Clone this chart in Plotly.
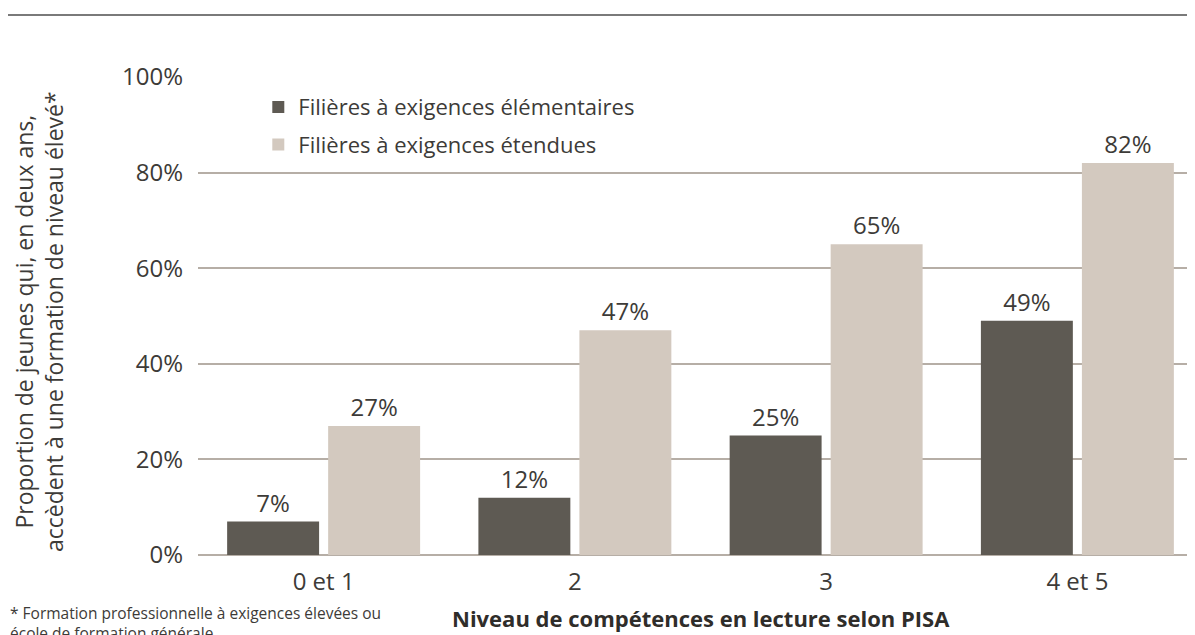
import plotly.graph_objects as go

categories = ["0 et 1", "2", "3", "4 et 5"]
elementaires = [7, 12, 25, 49]
etendues = [27, 47, 65, 82]
series_names = ["Filières à exigences élémentaires", "Filières à exigences étendues"]
tick_vals = [0, 20, 40, 60, 80, 100]
tick_text = ["0%", "20%", "40%", "60%", "80%", "100%"]

FONT = "Open Sans"
TXT = "#3d3b38"
DARK = "#5e5a53"
LIGHT = "#d3c9bf"
GRID = "#b6aea6"

L, T, B = 190, 69, 88
PW, PH = 1195 - L, 635 - T - B

fig = go.Figure()
fig.add_trace(go.Bar(
    x=categories, y=elementaires, name=series_names[0], legendgroup="a",
    marker=dict(color=DARK, line=dict(width=0)),
    width=0.366, offset=-0.384,
    text=[f"{v}%" for v in elementaires], textposition="outside",
    textfont=dict(family=FONT, size=24, color=TXT), cliponaxis=False,
))
fig.add_trace(go.Bar(
    x=categories, y=etendues, name=series_names[1], legendgroup="b",
    marker=dict(color=LIGHT, line=dict(width=0)),
    width=0.366, offset=0.018,
    text=[f"{v}%" for v in etendues], textposition="outside",
    textfont=dict(family=FONT, size=24, color=TXT), cliponaxis=False,
))

fig.update_layout(
    width=1195, height=635,
    margin=dict(l=L, r=0, t=T, b=B),
    paper_bgcolor="white", plot_bgcolor="white",
    font=dict(family=FONT, color=TXT, size=22),
    barmode="overlay",
    showlegend=True,
    legend=dict(x=0.06, y=0.981, xanchor="left", yanchor="top",
                font=dict(family=FONT, size=22, color=TXT),
                bgcolor="rgba(0,0,0,0)", traceorder="grouped", tracegroupgap=6),
    xaxis=dict(range=[-0.5, 3.5], showgrid=False, showline=False, zeroline=False,
               ticks="", ticklabelstandoff=10,
               tickfont=dict(family=FONT, size=24, color=TXT)),
    yaxis=dict(range=[0, 100], tickvals=tick_vals, ticktext=tick_text,
               showgrid=True, gridcolor=GRID, gridwidth=1.5,
               zeroline=True, zerolinecolor=GRID, zerolinewidth=1.5,
               showline=False, ticks="", ticklabelstandoff=14,
               tickfont=dict(family=FONT, size=24, color=TXT)),
)

fig.add_annotation(
    text="Proportion de jeunes qui, en deux ans,<br>accèdent à une formation de niveau élevé*",
    xref="paper", yref="paper", x=(31 - L) / PW, y=1 - (314 - T) / PH,
    xanchor="center", yanchor="middle", textangle=-90, showarrow=False,
    font=dict(family=FONT, size=23, color=TXT), align="center",
)
fig.add_annotation(
    text="<b>Niveau de compétences en lecture selon PISA</b>",
    xref="paper", yref="paper", x=(693 - L) / PW, y=-(610 - (T + PH)) / PH,
    xanchor="center", yanchor="middle", showarrow=False,
    font=dict(family=FONT, size=22, color="#2f2d2a"),
)
fig.add_annotation(
    text="* Formation professionnelle à exigences élevées ou<br>école de formation générale",
    xref="paper", yref="paper", x=(0 - L) / PW, y=-(592 - (T + PH)) / PH,
    xanchor="left", yanchor="top", showarrow=False, align="left",
    font=dict(family=FONT, size=15.5, color=TXT),
)
fig.add_shape(type="line", xref="paper", yref="paper",
              x0=(0 - L) / PW, x1=1.0, y0=1 + (T - 7) / PH, y1=1 + (T - 7) / PH,
              line=dict(color="#7a7a7a", width=2))

fig.write_html("out.html")
